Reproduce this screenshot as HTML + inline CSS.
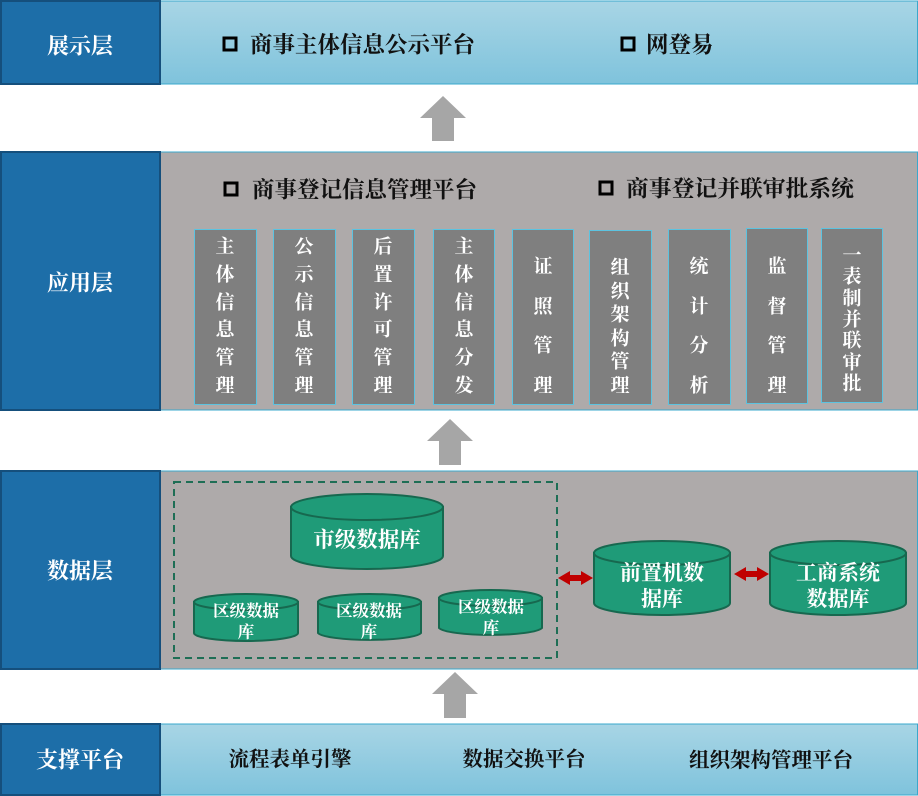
<!DOCTYPE html>
<html><head><meta charset="utf-8"><style>
html,body{margin:0;padding:0;background:#fff;}
svg{display:block;}
text{font-family:"Liberation Serif","Noto Serif CJK SC",serif;font-weight:bold;}
</style></head><body>
<svg width="918" height="796" viewBox="0 0 918 796" xmlns="http://www.w3.org/2000/svg">
<defs>
<linearGradient id="lb" x1="0" y1="0" x2="0" y2="1"><stop offset="0" stop-color="#a8d5e5"/><stop offset="1" stop-color="#7fc3dc"/></linearGradient>
</defs>
<!-- Row 1 -->
<rect x="160.5" y="1" width="757" height="83" fill="url(#lb)" stroke="#3aa8cc" stroke-width="1"/>
<rect x="1" y="1" width="159" height="83" fill="#1d6ea8" stroke="#154f7c" stroke-width="2"/>
<text x="80" y="46" font-size="22" fill="#fff" text-anchor="middle" dominant-baseline="central">展示层</text>
<rect x="224" y="38" width="12" height="12" fill="none" stroke="#000" stroke-width="3"/>
<text x="250" y="45" font-size="22.5" fill="#111" dominant-baseline="central">商事主体信息公示平台</text>
<rect x="622" y="38" width="12" height="12" fill="none" stroke="#000" stroke-width="3"/>
<text x="646" y="45" font-size="22.5" fill="#111" dominant-baseline="central">网登易</text>
<!-- arrow1 -->
<polygon points="443,96 466,118 454,118 454,141 432,141 432,118 420,118" fill="#a6a6a6"/>
<!-- Row 2 -->
<rect x="160.5" y="152" width="757" height="258" fill="#aeaaaa" stroke="#3aa8cc" stroke-width="1"/>
<rect x="1" y="152" width="159" height="258" fill="#1d6ea8" stroke="#154f7c" stroke-width="2"/>
<text x="80" y="283" font-size="22" fill="#fff" text-anchor="middle" dominant-baseline="central">应用层</text>
<rect x="225" y="183" width="12" height="12" fill="none" stroke="#000" stroke-width="3"/>
<text x="252" y="190" font-size="22.5" fill="#111" dominant-baseline="central">商事登记信息管理平台</text>
<rect x="600" y="182" width="12" height="12" fill="none" stroke="#000" stroke-width="3"/>
<text x="626" y="189" font-size="22.8" fill="#111" dominant-baseline="central">商事登记并联审批系统</text>
<g fill="#7f7f7f" stroke="#5cc3e0" stroke-width="1">
<rect x="194.5" y="229.5" width="62" height="175"/>
<rect x="273.5" y="229.5" width="62" height="175"/>
<rect x="352.5" y="229.5" width="62" height="175"/>
<rect x="433.5" y="229.5" width="61" height="175"/>
<rect x="512.5" y="229.5" width="61" height="175"/>
<rect x="589.5" y="230.5" width="62" height="174"/>
<rect x="668.5" y="229.5" width="62" height="175"/>
<rect x="746.5" y="228.5" width="61" height="175"/>
<rect x="821.5" y="228.5" width="61" height="174"/>
</g>
<g fill="#fff" font-size="19" text-anchor="middle" dominant-baseline="central">
<text x="225" y="247">主</text><text x="225" y="275">体</text><text x="225" y="303">信</text><text x="225" y="330">息</text><text x="225" y="358">管</text><text x="225" y="386">理</text>
<text x="304" y="247">公</text><text x="304" y="275">示</text><text x="304" y="303">信</text><text x="304" y="330">息</text><text x="304" y="358">管</text><text x="304" y="386">理</text>
<text x="383" y="247">后</text><text x="383" y="275">置</text><text x="383" y="303">许</text><text x="383" y="330">可</text><text x="383" y="358">管</text><text x="383" y="386">理</text>
<text x="464" y="247">主</text><text x="464" y="275">体</text><text x="464" y="303">信</text><text x="464" y="330">息</text><text x="464" y="358">分</text><text x="464" y="386">发</text>
<text x="543" y="267">证</text><text x="543" y="307">照</text><text x="543" y="346">管</text><text x="543" y="386">理</text>
<text x="620" y="268">组</text><text x="620" y="292">织</text><text x="620" y="315">架</text><text x="620" y="339">构</text><text x="620" y="362">管</text><text x="620" y="386">理</text>
<text x="699" y="267">统</text><text x="699" y="307">计</text><text x="699" y="346">分</text><text x="699" y="386">析</text>
<text x="777" y="267">监</text><text x="777" y="307">督</text><text x="777" y="346">管</text><text x="777" y="386">理</text>
<text x="852" y="256">一</text><text x="852" y="277">表</text><text x="852" y="299">制</text><text x="852" y="320">并</text><text x="852" y="341">联</text><text x="852" y="363">审</text><text x="852" y="384">批</text>
</g>
<!-- arrow2 -->
<polygon points="450,419 473,441 461,441 461,465 439,465 439,441 427,441" fill="#a6a6a6"/>
<!-- Row 3 -->
<rect x="160.5" y="471" width="757" height="198" fill="#aeaaaa" stroke="#3aa8cc" stroke-width="1"/>
<rect x="1" y="471" width="159" height="198" fill="#1d6ea8" stroke="#154f7c" stroke-width="2"/>
<text x="80" y="571" font-size="22" fill="#fff" text-anchor="middle" dominant-baseline="central">数据层</text>
<rect x="174" y="482" width="383" height="176" fill="none" stroke="#1e6e55" stroke-width="2" stroke-dasharray="7,5"/>
<g fill="#1f9b78" stroke="#17684f" stroke-width="2">
<path d="M291,507 L291,556 A76,13 0 0 0 443,556 L443,507 Z"/><ellipse cx="367" cy="507" rx="76" ry="13"/>
<path d="M194,602 L194,633 A52,8 0 0 0 298,633 L298,602 Z"/><ellipse cx="246" cy="602" rx="52" ry="8"/>
<path d="M318,602 L318,633 A52,8 0 0 0 421,633 L421,602 Z"/><ellipse cx="369.5" cy="602" rx="51.5" ry="8"/>
<path d="M439,598 L439,628 A52,8 0 0 0 542,628 L542,598 Z"/><ellipse cx="490.5" cy="598" rx="51.5" ry="8"/>
<path d="M594,553 L594,603 A68,12 0 0 0 730,603 L730,553 Z"/><ellipse cx="662" cy="553" rx="68" ry="12"/>
<path d="M770,553 L770,603 A68,12 0 0 0 906,603 L906,553 Z"/><ellipse cx="838" cy="553" rx="68" ry="12"/>
</g>
<g fill="#fff" text-anchor="middle" dominant-baseline="central">
<text x="367" y="540" font-size="21.5">市级数据库</text>
<text x="246" y="611" font-size="16.5">区级数据</text><text x="246" y="632" font-size="16.5">库</text>
<text x="369" y="611" font-size="16.5">区级数据</text><text x="369" y="632" font-size="16.5">库</text>
<text x="491" y="607" font-size="16.5">区级数据</text><text x="491" y="628" font-size="16.5">库</text>
<text x="662" y="573" font-size="21">前置机数</text><text x="662" y="599" font-size="21">据库</text>
<text x="838" y="573" font-size="21">工商系统</text><text x="838" y="599" font-size="21">数据库</text>
</g>
<polygon points="558,578 570,571 570,575 581,575 581,571 593,578 581,585 581,581 570,581 570,585" fill="#c00000"/>
<polygon points="734,574 746,567 746,571 757,571 757,567 769,574 757,581 757,577 746,577 746,581" fill="#c00000"/>
<!-- arrow3 -->
<polygon points="455,672 478,694 466,694 466,718 444,718 444,694 432,694" fill="#a6a6a6"/>
<!-- Row 4 -->
<rect x="160.5" y="724" width="757" height="71" fill="url(#lb)" stroke="#3aa8cc" stroke-width="1"/>
<rect x="1" y="724" width="159" height="71" fill="#1d6ea8" stroke="#154f7c" stroke-width="2"/>
<text x="80" y="760" font-size="22" fill="#fff" text-anchor="middle" dominant-baseline="central">支撑平台</text>
<g fill="#111" font-size="20.5" text-anchor="middle" dominant-baseline="central">
<text x="290" y="760">流程表单引擎</text>
<text x="524" y="760">数据交换平台</text>
<text x="771" y="761">组织架构管理平台</text>
</g>
</svg>
</body></html>
